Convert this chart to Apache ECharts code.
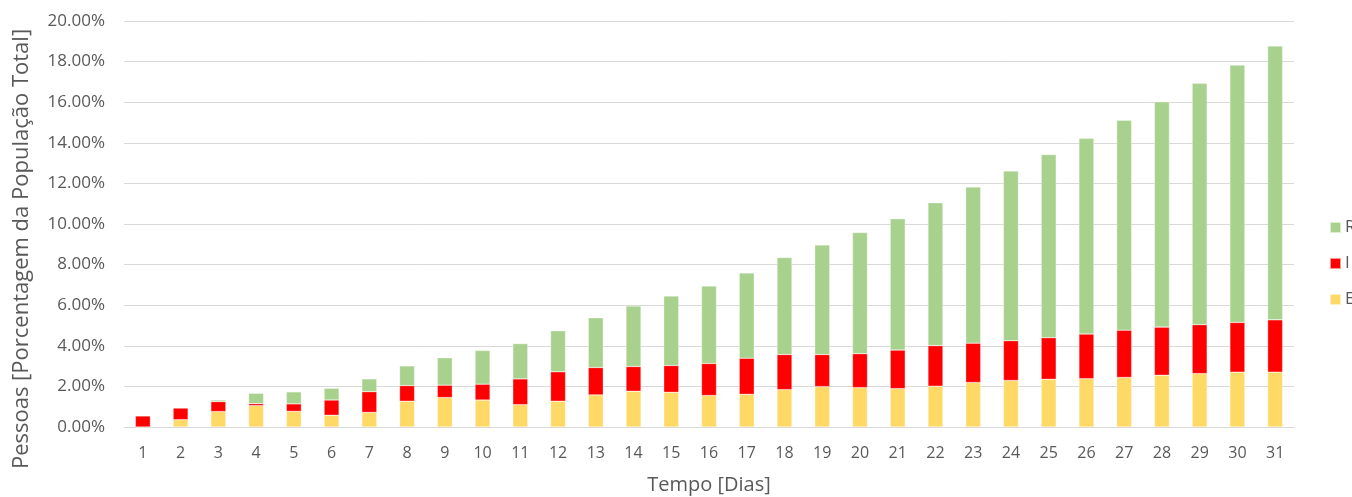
<!DOCTYPE html>
<html>
<head>
<meta charset="utf-8">
<script src="https://cdn.jsdelivr.net/npm/echarts@6/dist/echarts.min.js"></script>
<style>
  html, body { margin: 0; padding: 0; background: #ffffff; }
  #chart { width: 1352px; height: 497px; }
</style>
</head>
<body>
<div id="chart"></div>
<script>
// Days of the simulation
const dias = ['1','2','3','4','5','6','7','8','9','10','11','12','13','14','15','16',
  '17','18','19','20','21','22','23','24','25','26','27','28','29','30','31'];

// Share of the total population (%) in each compartment, stacked E + I + R
const serieE = [0.00, 0.36, 0.76, 1.05, 0.77, 0.58, 0.72, 1.27, 1.45, 1.33, 1.10, 1.27, 1.58, 1.76, 1.71, 1.55,
  1.61, 1.84, 1.99, 1.94, 1.89, 2.01, 2.19, 2.29, 2.35, 2.38, 2.44, 2.55, 2.63, 2.70, 2.70];
const serieI = [0.55, 0.58, 0.49, 0.10, 0.37, 0.75, 1.02, 0.77, 0.61, 0.78, 1.27, 1.45, 1.35, 1.22, 1.32, 1.58,
  1.78, 1.73, 1.58, 1.67, 1.90, 2.00, 1.94, 1.96, 2.05, 2.20, 2.33, 2.37, 2.41, 2.45, 2.58];
const serieR = [0.00, 0.00, 0.08, 0.51, 0.59, 0.58, 0.63, 0.97, 1.35, 1.66, 1.74, 2.02, 2.45, 2.98, 3.42, 3.82,
  4.20, 4.78, 5.40, 5.97, 6.47, 7.04, 7.69, 8.36, 9.02, 9.64, 10.34, 11.10, 11.89, 12.68, 13.49];

const fonte = '"Open Sans", "Noto Sans", sans-serif';
const cinza = '#595959';

function barra(nome, dados, cor) {
  return {
    name: nome,
    type: 'bar',
    stack: 'total',
    data: dados,
    barWidth: 15,
    itemStyle: { color: cor, borderColor: 'rgba(255,255,255,0.6)', borderWidth: 0.5 },
    emphasis: { disabled: true }
  };
}

const chart = echarts.init(document.getElementById('chart'), null, { renderer: 'canvas' });
chart.setOption({
  animation: false,
  backgroundColor: '#ffffff',
  textStyle: { fontFamily: fonte },
  grid: { left: 124, right: 58, top: 21, bottom: 70, containLabel: false, outerBoundsMode: 'none' },
  legend: {
    orient: 'vertical',
    left: 1324,
    top: 214,
    itemWidth: 11,
    itemHeight: 11,
    itemGap: 19,
    icon: 'rect',
    data: ['R', 'I', 'E'],
    textStyle: { color: cinza, fontSize: 17, fontFamily: fonte, padding: [0, 0, 0, -1] }
  },
  xAxis: {
    type: 'category',
    data: dias,
    name: 'Tempo [Dias]',
    nameLocation: 'middle',
    nameGap: 48,
    nameTextStyle: { color: cinza, fontSize: 20, fontFamily: fonte },
    axisLine: { lineStyle: { color: '#D9D9D9', width: 1 } },
    axisTick: { show: false },
    axisLabel: { color: cinza, fontSize: 16, margin: 18, interval: 0 }
  },
  yAxis: {
    type: 'value',
    min: 0,
    max: 20,
    interval: 2,
    name: 'Pessoas [Porcentagem da População Total]',
    nameLocation: 'middle',
    nameGap: 91,
    nameTextStyle: { color: cinza, fontSize: 22, fontFamily: fonte, padding: [0, 50, 0, 0] },
    axisLine: { show: false },
    axisTick: { show: false },
    axisLabel: {
      color: cinza, fontSize: 17, margin: 19,
      formatter: v => v.toFixed(2) + '%'
    },
    splitLine: { lineStyle: { color: '#D9D9D9', width: 1 } }
  },
  series: [
    barra('E', serieE, '#FFD966'),
    barra('I', serieI, '#FF0000'),
    barra('R', serieR, '#A9D18E')
  ]
});
</script>
</body>
</html>
